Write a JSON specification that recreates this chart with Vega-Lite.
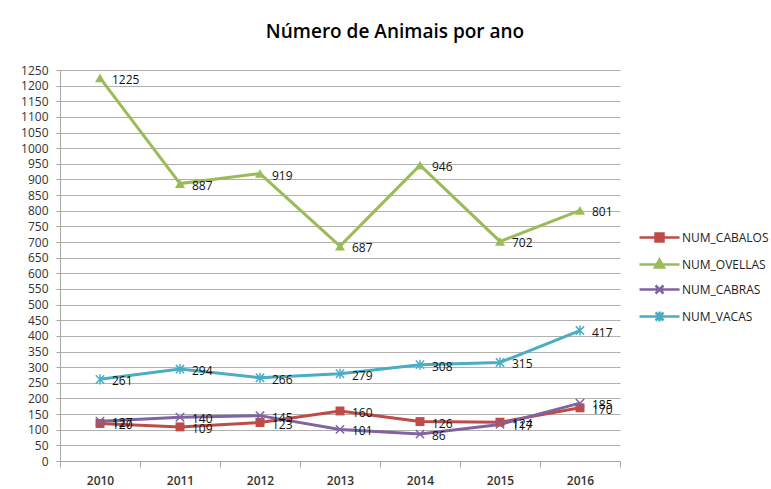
{
  "$schema": "https://vega.github.io/schema/vega-lite/v6.json",
  "autosize": {"type": "none"},
  "width": 560,
  "height": 391,
  "padding": {"left": 60, "top": 70, "right": 151, "bottom": 28},
  "background": "white",
  "title": {
    "text": "Número de Animais por ano",
    "anchor": "middle",
    "frame": "group",
    "dx": 55,
    "offset": 22,
    "fontSize": 19,
    "font": "Open Sans",
    "fontWeight": 600,
    "color": "#000000"
  },
  "config": {
    "view": {"stroke": null},
    "font": "Open Sans"
  },
  "data": {
    "values": [
      {"ano": "2010", "serie": "NUM_CABALOS", "valor": 120},
      {"ano": "2011", "serie": "NUM_CABALOS", "valor": 109},
      {"ano": "2012", "serie": "NUM_CABALOS", "valor": 123},
      {"ano": "2013", "serie": "NUM_CABALOS", "valor": 160},
      {"ano": "2014", "serie": "NUM_CABALOS", "valor": 126},
      {"ano": "2015", "serie": "NUM_CABALOS", "valor": 124},
      {"ano": "2016", "serie": "NUM_CABALOS", "valor": 170},
      {"ano": "2010", "serie": "NUM_OVELLAS", "valor": 1225},
      {"ano": "2011", "serie": "NUM_OVELLAS", "valor": 887},
      {"ano": "2012", "serie": "NUM_OVELLAS", "valor": 919},
      {"ano": "2013", "serie": "NUM_OVELLAS", "valor": 687},
      {"ano": "2014", "serie": "NUM_OVELLAS", "valor": 946},
      {"ano": "2015", "serie": "NUM_OVELLAS", "valor": 702},
      {"ano": "2016", "serie": "NUM_OVELLAS", "valor": 801},
      {"ano": "2010", "serie": "NUM_CABRAS", "valor": 127},
      {"ano": "2011", "serie": "NUM_CABRAS", "valor": 140},
      {"ano": "2012", "serie": "NUM_CABRAS", "valor": 145},
      {"ano": "2013", "serie": "NUM_CABRAS", "valor": 101},
      {"ano": "2014", "serie": "NUM_CABRAS", "valor": 86},
      {"ano": "2015", "serie": "NUM_CABRAS", "valor": 117},
      {"ano": "2016", "serie": "NUM_CABRAS", "valor": 185},
      {"ano": "2010", "serie": "NUM_VACAS", "valor": 261},
      {"ano": "2011", "serie": "NUM_VACAS", "valor": 294},
      {"ano": "2012", "serie": "NUM_VACAS", "valor": 266},
      {"ano": "2013", "serie": "NUM_VACAS", "valor": 279},
      {"ano": "2014", "serie": "NUM_VACAS", "valor": 308},
      {"ano": "2015", "serie": "NUM_VACAS", "valor": 315},
      {"ano": "2016", "serie": "NUM_VACAS", "valor": 417}
    ]
  },
  "encoding": {
    "x": {
      "field": "ano",
      "type": "ordinal",
      "bandPosition": 0.5,
      "scale": {"type": "band", "paddingInner": 0, "paddingOuter": 0},
      "axis": {
        "title": null,
        "labelAngle": 0,
        "labelFontSize": 12,
        "labelFontWeight": 600,
        "labelColor": "#333333",
        "labelPadding": 8,
        "domainColor": "#a6a6a6",
        "tickColor": "#a6a6a6",
        "tickSize": 6,
        "tickBand": "extent",
        "grid": false
      }
    },
    "y": {
      "field": "valor",
      "type": "quantitative",
      "scale": {"domain": [0, 1250], "nice": false},
      "axis": {
        "title": null,
        "format": "d",
        "values": [0,50,100,150,200,250,300,350,400,450,500,550,600,650,700,750,800,850,900,950,1000,1050,1100,1150,1200,1250],
        "labelFontSize": 12,
        "labelColor": "#333333",
        "labelPadding": 8,
        "domainColor": "#a6a6a6",
        "tickColor": "#a6a6a6",
        "tickSize": 4,
        "gridColor": "#b0b0b0",
        "gridWidth": 1
      }
    },
    "color": {
      "field": "serie",
      "type": "nominal",
      "sort": ["NUM_CABALOS", "NUM_OVELLAS", "NUM_CABRAS", "NUM_VACAS"],
      "scale": {
        "domain": ["NUM_CABALOS", "NUM_OVELLAS", "NUM_CABRAS", "NUM_VACAS"],
        "range": ["#be4b48", "#9bbb59", "#8064a2", "#4bacc6"]
      }
    }
  },
  "layer": [
    {
      "mark": {"type": "line", "strokeWidth": 3},
      "encoding": {
        "color": {
          "field": "serie",
          "type": "nominal",
          "sort": ["NUM_CABALOS", "NUM_OVELLAS", "NUM_CABRAS", "NUM_VACAS"],
          "scale": {
            "domain": ["NUM_CABALOS", "NUM_OVELLAS", "NUM_CABRAS", "NUM_VACAS"],
            "range": ["#be4b48", "#9bbb59", "#8064a2", "#4bacc6"]
          },
          "legend": {
            "title": null,
            "orient": "none",
            "legendX": 593,
            "legendY": 161,
            "padding": 0,
            "rowPadding": 7,
            "symbolSize": 100,
            "symbolStrokeWidth": 3,
            "labelOffset": 16,
            "labelLimit": 200,
            "labelFontSize": 12,
            "labelColor": "#222222",
            "encode": {
              "symbols": {
                "update": {
                  "shape": {"signal": "datum.value === 'NUM_CABALOS' ? 'M-4,0L4,0M-0.8,-0.8L0.8,-0.8L0.8,0.8L-0.8,0.8Z' : datum.value === 'NUM_OVELLAS' ? 'M-4,0L4,0M0,-1L0.9,0.6L-0.9,0.6Z' : datum.value === 'NUM_CABRAS' ? 'M-4,0L4,0M-0.8,-0.8L0.8,0.8M0.8,-0.8L-0.8,0.8' : 'M-4,0L4,0M-0.8,-0.8L0.8,0.8M0.8,-0.8L-0.8,0.8M0,-1L0,1'"},
                  "fill": {"signal": "scale('color', datum.value)"},
                  "stroke": {"signal": "scale('color', datum.value)"},
                  "strokeWidth": {"value": 2.5}
                }
              }
            }
          }
        }
      }
    },
    {
      "transform": [{"filter": "datum.serie === 'NUM_CABALOS'"}],
      "mark": {"type": "point", "shape": "square", "filled": true, "size": 80, "opacity": 1}
    },
    {
      "transform": [{"filter": "datum.serie === 'NUM_OVELLAS'"}],
      "mark": {"type": "point", "shape": "triangle-up", "filled": true, "size": 100, "opacity": 1}
    },
    {
      "transform": [{"filter": "datum.serie === 'NUM_CABRAS'"}],
      "mark": {"type": "point", "shape": "M-1,-1L1,1M1,-1L-1,1", "filled": false, "size": 70, "strokeWidth": 1.5, "opacity": 1}
    },
    {
      "transform": [{"filter": "datum.serie === 'NUM_VACAS'"}],
      "mark": {"type": "point", "shape": "M-1,-1L1,1M1,-1L-1,1M0,-1.2L0,1.2", "filled": false, "size": 70, "strokeWidth": 1.5, "opacity": 1}
    },
    {
      "mark": {"type": "text", "align": "left", "baseline": "middle", "dx": 12, "dy": 2, "fontSize": 12, "color": "#111111"},
      "encoding": {
        "text": {"field": "valor", "type": "quantitative"},
        "color": {"value": "#111111"}
      }
    }
  ]
}
